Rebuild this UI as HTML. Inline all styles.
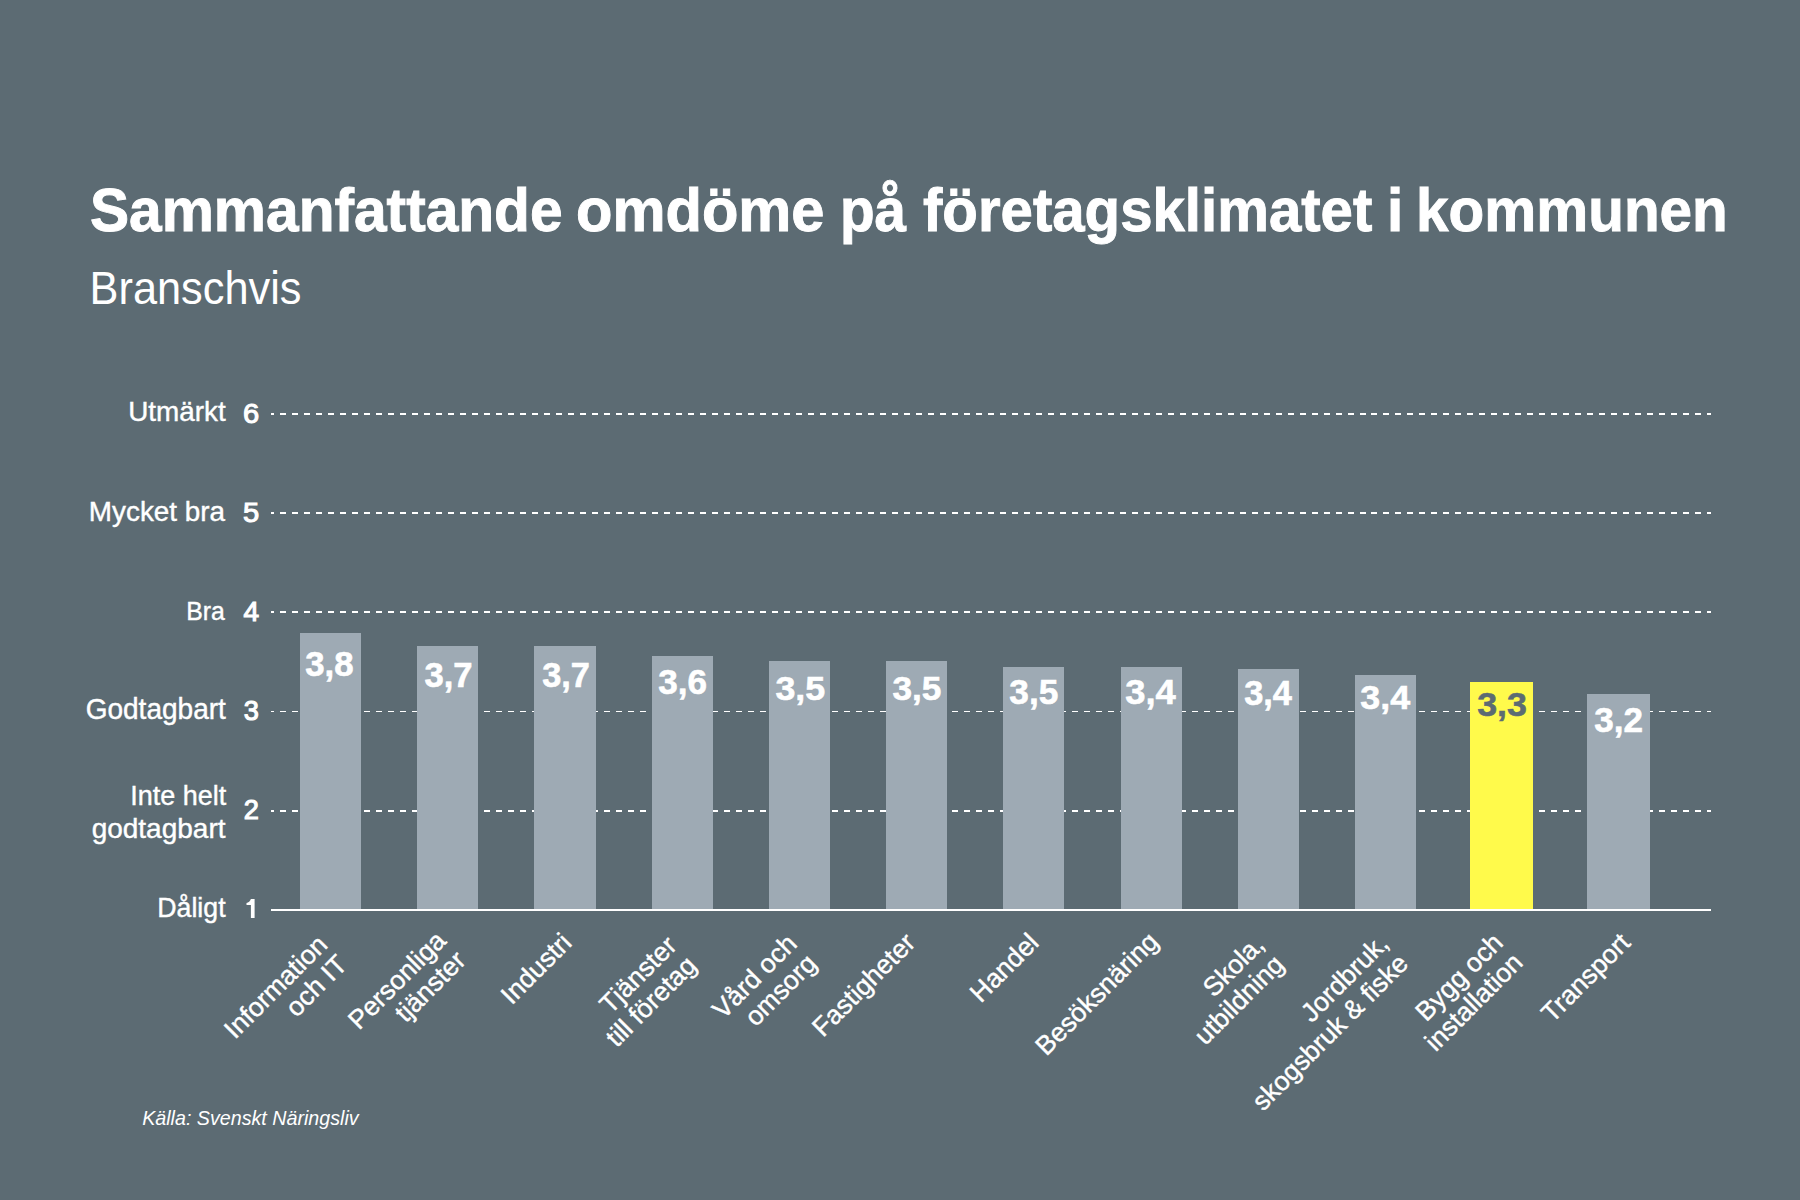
<!DOCTYPE html>
<html><head><meta charset="utf-8"><style>
html,body{margin:0;padding:0;}
body{width:1800px;height:1200px;background:#5c6b73;position:relative;overflow:hidden;font-family:'Liberation Sans',sans-serif;color:#fff;}
.x{position:absolute;white-space:pre;line-height:1;transform-origin:0 0;}
.bar{position:absolute;background:#9eaab4;}
.cat{position:absolute;white-space:pre;text-align:right;transform-origin:100% 0;}
</style></head><body>
<svg style="position:absolute;left:0;top:0" width="1800" height="1200" viewBox="0 0 1800 1200" shape-rendering="crispEdges"><g fill="#fff"><path d="M271 413h3v2h-3zM280 413h6v2h-6zM292 413h6v2h-6zM304 413h6v2h-6zM316 413h6v2h-6zM328 413h6v2h-6zM340 413h6v2h-6zM352 413h6v2h-6zM364 413h6v2h-6zM376 413h6v2h-6zM388 413h6v2h-6zM400 413h6v2h-6zM412 413h6v2h-6zM424 413h6v2h-6zM436 413h6v2h-6zM448 413h6v2h-6zM460 413h6v2h-6zM472 413h6v2h-6zM484 413h6v2h-6zM496 413h6v2h-6zM508 413h6v2h-6zM520 413h6v2h-6zM532 413h6v2h-6zM544 413h6v2h-6zM556 413h6v2h-6zM568 413h6v2h-6zM580 413h6v2h-6zM592 413h6v2h-6zM604 413h6v2h-6zM616 413h6v2h-6zM628 413h6v2h-6zM640 413h6v2h-6zM652 413h6v2h-6zM664 413h6v2h-6zM676 413h6v2h-6zM688 413h6v2h-6zM700 413h6v2h-6zM712 413h6v2h-6zM724 413h6v2h-6zM736 413h6v2h-6zM748 413h6v2h-6zM760 413h6v2h-6zM772 413h6v2h-6zM784 413h6v2h-6zM796 413h6v2h-6zM808 413h6v2h-6zM820 413h6v2h-6zM832 413h6v2h-6zM844 413h6v2h-6zM856 413h6v2h-6zM868 413h6v2h-6zM880 413h6v2h-6zM892 413h6v2h-6zM904 413h6v2h-6zM916 413h6v2h-6zM928 413h6v2h-6zM940 413h6v2h-6zM952 413h6v2h-6zM964 413h6v2h-6zM976 413h6v2h-6zM988 413h6v2h-6zM1000 413h6v2h-6zM1012 413h6v2h-6zM1024 413h6v2h-6zM1036 413h6v2h-6zM1048 413h6v2h-6zM1060 413h6v2h-6zM1072 413h6v2h-6zM1084 413h6v2h-6zM1096 413h6v2h-6zM1108 413h6v2h-6zM1120 413h6v2h-6zM1132 413h6v2h-6zM1144 413h6v2h-6zM1156 413h6v2h-6zM1168 413h6v2h-6zM1180 413h6v2h-6zM1192 413h6v2h-6zM1204 413h6v2h-6zM1216 413h6v2h-6zM1228 413h6v2h-6zM1240 413h6v2h-6zM1252 413h6v2h-6zM1264 413h6v2h-6zM1276 413h6v2h-6zM1288 413h6v2h-6zM1300 413h6v2h-6zM1312 413h6v2h-6zM1324 413h6v2h-6zM1336 413h6v2h-6zM1348 413h6v2h-6zM1360 413h6v2h-6zM1371 413h6v2h-6zM1383 413h6v2h-6zM1395 413h6v2h-6zM1407 413h6v2h-6zM1419 413h6v2h-6zM1431 413h6v2h-6zM1443 413h6v2h-6zM1455 413h6v2h-6zM1467 413h6v2h-6zM1479 413h6v2h-6zM1491 413h6v2h-6zM1503 413h6v2h-6zM1515 413h6v2h-6zM1527 413h6v2h-6zM1539 413h6v2h-6zM1551 413h6v2h-6zM1563 413h6v2h-6zM1575 413h6v2h-6zM1587 413h6v2h-6zM1599 413h6v2h-6zM1611 413h6v2h-6zM1623 413h6v2h-6zM1635 413h6v2h-6zM1647 413h6v2h-6zM1659 413h6v2h-6zM1671 413h6v2h-6zM1683 413h6v2h-6zM1695 413h6v2h-6zM1707 413h4v2h-4z"/><path d="M271 512h3v2h-3zM280 512h6v2h-6zM292 512h6v2h-6zM304 512h6v2h-6zM316 512h6v2h-6zM328 512h6v2h-6zM340 512h6v2h-6zM352 512h6v2h-6zM364 512h6v2h-6zM376 512h6v2h-6zM388 512h6v2h-6zM400 512h6v2h-6zM412 512h6v2h-6zM424 512h6v2h-6zM436 512h6v2h-6zM448 512h6v2h-6zM460 512h6v2h-6zM472 512h6v2h-6zM484 512h6v2h-6zM496 512h6v2h-6zM508 512h6v2h-6zM520 512h6v2h-6zM532 512h6v2h-6zM544 512h6v2h-6zM556 512h6v2h-6zM568 512h6v2h-6zM580 512h6v2h-6zM592 512h6v2h-6zM604 512h6v2h-6zM616 512h6v2h-6zM628 512h6v2h-6zM640 512h6v2h-6zM652 512h6v2h-6zM664 512h6v2h-6zM676 512h6v2h-6zM688 512h6v2h-6zM700 512h6v2h-6zM712 512h6v2h-6zM724 512h6v2h-6zM736 512h6v2h-6zM748 512h6v2h-6zM760 512h6v2h-6zM772 512h6v2h-6zM784 512h6v2h-6zM796 512h6v2h-6zM808 512h6v2h-6zM820 512h6v2h-6zM832 512h6v2h-6zM844 512h6v2h-6zM856 512h6v2h-6zM868 512h6v2h-6zM880 512h6v2h-6zM892 512h6v2h-6zM904 512h6v2h-6zM916 512h6v2h-6zM928 512h6v2h-6zM940 512h6v2h-6zM952 512h6v2h-6zM964 512h6v2h-6zM976 512h6v2h-6zM988 512h6v2h-6zM1000 512h6v2h-6zM1012 512h6v2h-6zM1024 512h6v2h-6zM1036 512h6v2h-6zM1048 512h6v2h-6zM1060 512h6v2h-6zM1072 512h6v2h-6zM1084 512h6v2h-6zM1096 512h6v2h-6zM1108 512h6v2h-6zM1120 512h6v2h-6zM1132 512h6v2h-6zM1144 512h6v2h-6zM1156 512h6v2h-6zM1168 512h6v2h-6zM1180 512h6v2h-6zM1192 512h6v2h-6zM1204 512h6v2h-6zM1216 512h6v2h-6zM1228 512h6v2h-6zM1240 512h6v2h-6zM1252 512h6v2h-6zM1264 512h6v2h-6zM1276 512h6v2h-6zM1288 512h6v2h-6zM1300 512h6v2h-6zM1312 512h6v2h-6zM1324 512h6v2h-6zM1336 512h6v2h-6zM1348 512h6v2h-6zM1360 512h6v2h-6zM1371 512h6v2h-6zM1383 512h6v2h-6zM1395 512h6v2h-6zM1407 512h6v2h-6zM1419 512h6v2h-6zM1431 512h6v2h-6zM1443 512h6v2h-6zM1455 512h6v2h-6zM1467 512h6v2h-6zM1479 512h6v2h-6zM1491 512h6v2h-6zM1503 512h6v2h-6zM1515 512h6v2h-6zM1527 512h6v2h-6zM1539 512h6v2h-6zM1551 512h6v2h-6zM1563 512h6v2h-6zM1575 512h6v2h-6zM1587 512h6v2h-6zM1599 512h6v2h-6zM1611 512h6v2h-6zM1623 512h6v2h-6zM1635 512h6v2h-6zM1647 512h6v2h-6zM1659 512h6v2h-6zM1671 512h6v2h-6zM1683 512h6v2h-6zM1695 512h6v2h-6zM1707 512h4v2h-4z"/><path d="M271 611h3v2h-3zM280 611h6v2h-6zM292 611h6v2h-6zM304 611h6v2h-6zM316 611h6v2h-6zM328 611h6v2h-6zM340 611h6v2h-6zM352 611h6v2h-6zM364 611h6v2h-6zM376 611h6v2h-6zM388 611h6v2h-6zM400 611h6v2h-6zM412 611h6v2h-6zM424 611h6v2h-6zM436 611h6v2h-6zM448 611h6v2h-6zM460 611h6v2h-6zM472 611h6v2h-6zM484 611h6v2h-6zM496 611h6v2h-6zM508 611h6v2h-6zM520 611h6v2h-6zM532 611h6v2h-6zM544 611h6v2h-6zM556 611h6v2h-6zM568 611h6v2h-6zM580 611h6v2h-6zM592 611h6v2h-6zM604 611h6v2h-6zM616 611h6v2h-6zM628 611h6v2h-6zM640 611h6v2h-6zM652 611h6v2h-6zM664 611h6v2h-6zM676 611h6v2h-6zM688 611h6v2h-6zM700 611h6v2h-6zM712 611h6v2h-6zM724 611h6v2h-6zM736 611h6v2h-6zM748 611h6v2h-6zM760 611h6v2h-6zM772 611h6v2h-6zM784 611h6v2h-6zM796 611h6v2h-6zM808 611h6v2h-6zM820 611h6v2h-6zM832 611h6v2h-6zM844 611h6v2h-6zM856 611h6v2h-6zM868 611h6v2h-6zM880 611h6v2h-6zM892 611h6v2h-6zM904 611h6v2h-6zM916 611h6v2h-6zM928 611h6v2h-6zM940 611h6v2h-6zM952 611h6v2h-6zM964 611h6v2h-6zM976 611h6v2h-6zM988 611h6v2h-6zM1000 611h6v2h-6zM1012 611h6v2h-6zM1024 611h6v2h-6zM1036 611h6v2h-6zM1048 611h6v2h-6zM1060 611h6v2h-6zM1072 611h6v2h-6zM1084 611h6v2h-6zM1096 611h6v2h-6zM1108 611h6v2h-6zM1120 611h6v2h-6zM1132 611h6v2h-6zM1144 611h6v2h-6zM1156 611h6v2h-6zM1168 611h6v2h-6zM1180 611h6v2h-6zM1192 611h6v2h-6zM1204 611h6v2h-6zM1216 611h6v2h-6zM1228 611h6v2h-6zM1240 611h6v2h-6zM1252 611h6v2h-6zM1264 611h6v2h-6zM1276 611h6v2h-6zM1288 611h6v2h-6zM1300 611h6v2h-6zM1312 611h6v2h-6zM1324 611h6v2h-6zM1336 611h6v2h-6zM1348 611h6v2h-6zM1360 611h6v2h-6zM1371 611h6v2h-6zM1383 611h6v2h-6zM1395 611h6v2h-6zM1407 611h6v2h-6zM1419 611h6v2h-6zM1431 611h6v2h-6zM1443 611h6v2h-6zM1455 611h6v2h-6zM1467 611h6v2h-6zM1479 611h6v2h-6zM1491 611h6v2h-6zM1503 611h6v2h-6zM1515 611h6v2h-6zM1527 611h6v2h-6zM1539 611h6v2h-6zM1551 611h6v2h-6zM1563 611h6v2h-6zM1575 611h6v2h-6zM1587 611h6v2h-6zM1599 611h6v2h-6zM1611 611h6v2h-6zM1623 611h6v2h-6zM1635 611h6v2h-6zM1647 611h6v2h-6zM1659 611h6v2h-6zM1671 611h6v2h-6zM1683 611h6v2h-6zM1695 611h6v2h-6zM1707 611h4v2h-4z"/><path d="M271 711h3v1h-3zM280 711h6v1h-6zM292 711h6v1h-6zM304 711h6v1h-6zM316 711h6v1h-6zM328 711h6v1h-6zM340 711h6v1h-6zM352 711h6v1h-6zM364 711h6v1h-6zM376 711h6v1h-6zM388 711h6v1h-6zM400 711h6v1h-6zM412 711h6v1h-6zM424 711h6v1h-6zM436 711h6v1h-6zM448 711h6v1h-6zM460 711h6v1h-6zM472 711h6v1h-6zM484 711h6v1h-6zM496 711h6v1h-6zM508 711h6v1h-6zM520 711h6v1h-6zM532 711h6v1h-6zM544 711h6v1h-6zM556 711h6v1h-6zM568 711h6v1h-6zM580 711h6v1h-6zM592 711h6v1h-6zM604 711h6v1h-6zM616 711h6v1h-6zM628 711h6v1h-6zM640 711h6v1h-6zM652 711h6v1h-6zM664 711h6v1h-6zM676 711h6v1h-6zM688 711h6v1h-6zM700 711h6v1h-6zM712 711h6v1h-6zM724 711h6v1h-6zM736 711h6v1h-6zM748 711h6v1h-6zM760 711h6v1h-6zM772 711h6v1h-6zM784 711h6v1h-6zM796 711h6v1h-6zM808 711h6v1h-6zM820 711h6v1h-6zM832 711h6v1h-6zM844 711h6v1h-6zM856 711h6v1h-6zM868 711h6v1h-6zM880 711h6v1h-6zM892 711h6v1h-6zM904 711h6v1h-6zM916 711h6v1h-6zM928 711h6v1h-6zM940 711h6v1h-6zM952 711h6v1h-6zM964 711h6v1h-6zM976 711h6v1h-6zM988 711h6v1h-6zM1000 711h6v1h-6zM1012 711h6v1h-6zM1024 711h6v1h-6zM1036 711h6v1h-6zM1048 711h6v1h-6zM1060 711h6v1h-6zM1072 711h6v1h-6zM1084 711h6v1h-6zM1096 711h6v1h-6zM1108 711h6v1h-6zM1120 711h6v1h-6zM1132 711h6v1h-6zM1144 711h6v1h-6zM1156 711h6v1h-6zM1168 711h6v1h-6zM1180 711h6v1h-6zM1192 711h6v1h-6zM1204 711h6v1h-6zM1216 711h6v1h-6zM1228 711h6v1h-6zM1240 711h6v1h-6zM1252 711h6v1h-6zM1264 711h6v1h-6zM1276 711h6v1h-6zM1288 711h6v1h-6zM1300 711h6v1h-6zM1312 711h6v1h-6zM1324 711h6v1h-6zM1336 711h6v1h-6zM1348 711h6v1h-6zM1360 711h6v1h-6zM1371 711h6v1h-6zM1383 711h6v1h-6zM1395 711h6v1h-6zM1407 711h6v1h-6zM1419 711h6v1h-6zM1431 711h6v1h-6zM1443 711h6v1h-6zM1455 711h6v1h-6zM1467 711h6v1h-6zM1479 711h6v1h-6zM1491 711h6v1h-6zM1503 711h6v1h-6zM1515 711h6v1h-6zM1527 711h6v1h-6zM1539 711h6v1h-6zM1551 711h6v1h-6zM1563 711h6v1h-6zM1575 711h6v1h-6zM1587 711h6v1h-6zM1599 711h6v1h-6zM1611 711h6v1h-6zM1623 711h6v1h-6zM1635 711h6v1h-6zM1647 711h6v1h-6zM1659 711h6v1h-6zM1671 711h6v1h-6zM1683 711h6v1h-6zM1695 711h6v1h-6zM1707 711h4v1h-4z"/><path d="M271 810h3v2h-3zM280 810h6v2h-6zM292 810h6v2h-6zM304 810h6v2h-6zM316 810h6v2h-6zM328 810h6v2h-6zM340 810h6v2h-6zM352 810h6v2h-6zM364 810h6v2h-6zM376 810h6v2h-6zM388 810h6v2h-6zM400 810h6v2h-6zM412 810h6v2h-6zM424 810h6v2h-6zM436 810h6v2h-6zM448 810h6v2h-6zM460 810h6v2h-6zM472 810h6v2h-6zM484 810h6v2h-6zM496 810h6v2h-6zM508 810h6v2h-6zM520 810h6v2h-6zM532 810h6v2h-6zM544 810h6v2h-6zM556 810h6v2h-6zM568 810h6v2h-6zM580 810h6v2h-6zM592 810h6v2h-6zM604 810h6v2h-6zM616 810h6v2h-6zM628 810h6v2h-6zM640 810h6v2h-6zM652 810h6v2h-6zM664 810h6v2h-6zM676 810h6v2h-6zM688 810h6v2h-6zM700 810h6v2h-6zM712 810h6v2h-6zM724 810h6v2h-6zM736 810h6v2h-6zM748 810h6v2h-6zM760 810h6v2h-6zM772 810h6v2h-6zM784 810h6v2h-6zM796 810h6v2h-6zM808 810h6v2h-6zM820 810h6v2h-6zM832 810h6v2h-6zM844 810h6v2h-6zM856 810h6v2h-6zM868 810h6v2h-6zM880 810h6v2h-6zM892 810h6v2h-6zM904 810h6v2h-6zM916 810h6v2h-6zM928 810h6v2h-6zM940 810h6v2h-6zM952 810h6v2h-6zM964 810h6v2h-6zM976 810h6v2h-6zM988 810h6v2h-6zM1000 810h6v2h-6zM1012 810h6v2h-6zM1024 810h6v2h-6zM1036 810h6v2h-6zM1048 810h6v2h-6zM1060 810h6v2h-6zM1072 810h6v2h-6zM1084 810h6v2h-6zM1096 810h6v2h-6zM1108 810h6v2h-6zM1120 810h6v2h-6zM1132 810h6v2h-6zM1144 810h6v2h-6zM1156 810h6v2h-6zM1168 810h6v2h-6zM1180 810h6v2h-6zM1192 810h6v2h-6zM1204 810h6v2h-6zM1216 810h6v2h-6zM1228 810h6v2h-6zM1240 810h6v2h-6zM1252 810h6v2h-6zM1264 810h6v2h-6zM1276 810h6v2h-6zM1288 810h6v2h-6zM1300 810h6v2h-6zM1312 810h6v2h-6zM1324 810h6v2h-6zM1336 810h6v2h-6zM1348 810h6v2h-6zM1360 810h6v2h-6zM1371 810h6v2h-6zM1383 810h6v2h-6zM1395 810h6v2h-6zM1407 810h6v2h-6zM1419 810h6v2h-6zM1431 810h6v2h-6zM1443 810h6v2h-6zM1455 810h6v2h-6zM1467 810h6v2h-6zM1479 810h6v2h-6zM1491 810h6v2h-6zM1503 810h6v2h-6zM1515 810h6v2h-6zM1527 810h6v2h-6zM1539 810h6v2h-6zM1551 810h6v2h-6zM1563 810h6v2h-6zM1575 810h6v2h-6zM1587 810h6v2h-6zM1599 810h6v2h-6zM1611 810h6v2h-6zM1623 810h6v2h-6zM1635 810h6v2h-6zM1647 810h6v2h-6zM1659 810h6v2h-6zM1671 810h6v2h-6zM1683 810h6v2h-6zM1695 810h6v2h-6zM1707 810h4v2h-4z"/></g><path fill="#fff" shape-rendering="geometricPrecision" d="M250.9 899.05H254.6V918H250.9V905.1H246.5V903.1Q249.6 902.6 250.9 899.05Z"/></svg>
<div class="bar" style="left:300px;top:633.1px;width:61px;height:276.9px;background:#9eaab4"></div>
<div class="bar" style="left:417px;top:645.9px;width:61px;height:264.1px;background:#9eaab4"></div>
<div class="bar" style="left:534.3px;top:645.9px;width:61.3px;height:264.1px;background:#9eaab4"></div>
<div class="bar" style="left:651.8px;top:656.2px;width:61.1px;height:253.79999999999995px;background:#9eaab4"></div>
<div class="bar" style="left:768.9px;top:660.7px;width:61.1px;height:249.29999999999995px;background:#9eaab4"></div>
<div class="bar" style="left:886px;top:660.9px;width:61px;height:249.10000000000002px;background:#9eaab4"></div>
<div class="bar" style="left:1003.2px;top:666.9px;width:61.2px;height:243.10000000000002px;background:#9eaab4"></div>
<div class="bar" style="left:1120.8px;top:666.9px;width:60.8px;height:243.10000000000002px;background:#9eaab4"></div>
<div class="bar" style="left:1237.8px;top:669px;width:61.1px;height:241px;background:#9eaab4"></div>
<div class="bar" style="left:1355px;top:675.4px;width:60.9px;height:234.60000000000002px;background:#9eaab4"></div>
<div class="bar" style="left:1469.9px;top:681.7px;width:63.3px;height:228.29999999999995px;background:#fffa4b"></div>
<div class="bar" style="left:1587.2px;top:694px;width:63.2px;height:216px;background:#9eaab4"></div>
<div class="axis" style="position:absolute;left:270.8px;top:908.7px;width:1439.90px;height:2.30px;background:#fff"></div>
<div class="x" id="tw0" style="left:90.29px;top:179.91px;font-size:58.27px;font-weight:bold;-webkit-text-stroke:0.9px #fff;transform:scale(1.0065,1.0500);">Sammanfattande</div>
<div class="x" id="tw1" style="left:576.44px;top:179.91px;font-size:58.27px;font-weight:bold;-webkit-text-stroke:0.9px #fff;transform:scale(1.0236,1.0500);">omdöme</div>
<div class="x" id="tw2" style="left:839.68px;top:179.91px;font-size:58.27px;font-weight:bold;-webkit-text-stroke:0.9px #fff;transform:scale(0.9723,1.0500);">på</div>
<div class="x" id="tw3" style="left:923.00px;top:179.91px;font-size:58.27px;font-weight:bold;-webkit-text-stroke:0.9px #fff;transform:scale(0.9983,1.0500);">företagsklimatet</div>
<div class="x" id="tw4" style="left:1386.55px;top:179.91px;font-size:58.27px;font-weight:bold;-webkit-text-stroke:0.9px #fff;transform:scale(1.0041,1.0500);">i</div>
<div class="x" id="tw5" style="left:1415.59px;top:179.91px;font-size:58.27px;font-weight:bold;-webkit-text-stroke:0.9px #fff;transform:scale(1.0033,1.0500);">kommunen</div>
<div class="x" id="sub" style="left:89.59px;top:265.17px;font-size:43.34px;transform:scale(1.0000,1.0800);">Branschvis</div>
<div class="x" id="yl6" style="left:128.26px;top:398.44px;font-size:27.87px;-webkit-text-stroke:0.4px #fff;transform:scale(1.0000,1.0200);">Utmärkt</div>
<div class="x" id="yl5" style="left:88.86px;top:497.75px;font-size:27.85px;-webkit-text-stroke:0.4px #fff;transform:scale(1.0000,1.0200);">Mycket bra</div>
<div class="x" id="yl4" style="left:186.28px;top:599.60px;font-size:24.79px;-webkit-text-stroke:0.4px #fff;transform:scale(1.0000,1.0200);">Bra</div>
<div class="x" id="yl3" style="left:85.63px;top:695.59px;font-size:28.04px;-webkit-text-stroke:0.4px #fff;transform:scale(1.0000,1.0200);">Godtagbart</div>
<div class="x" id="yl2a" style="left:130.17px;top:782.88px;font-size:27.00px;-webkit-text-stroke:0.4px #fff;transform:scale(1.0000,1.0200);">Inte helt</div>
<div class="x" id="yl2b" style="left:91.63px;top:814.72px;font-size:28.00px;-webkit-text-stroke:0.4px #fff;transform:scale(1.0000,1.0200);">godtagbart</div>
<div class="x" id="yl1" style="left:157.34px;top:894.95px;font-size:26.70px;-webkit-text-stroke:0.4px #fff;transform:scale(1.0000,1.0200);">Dåligt</div>
<div class="x" id="yn6" style="left:242.92px;top:399.74px;font-size:29.13px;-webkit-text-stroke:1.1px #fff;transform:scale(1.0000,0.9392);">6</div>
<div class="x" id="yn5" style="left:242.92px;top:498.58px;font-size:29.15px;-webkit-text-stroke:1.1px #fff;transform:scale(1.0000,0.9411);">5</div>
<div class="x" id="yn4" style="left:243.40px;top:597.72px;font-size:28.09px;-webkit-text-stroke:1.1px #fff;transform:scale(1.0000,0.9791);">4</div>
<div class="x" id="yn3" style="left:243.78px;top:696.76px;font-size:27.14px;-webkit-text-stroke:1.1px #fff;transform:scale(1.0000,1.0159);">3</div>
<div class="x" id="yn2" style="left:243.74px;top:796.37px;font-size:27.21px;-webkit-text-stroke:1.1px #fff;transform:scale(1.0000,0.9869);">2</div>
<div class="x" id="v0" style="left:305.23px;top:646.98px;font-size:34.77px;font-weight:bold;-webkit-text-stroke:0.6px #fff;transform:scale(1.0000,0.9861);">3,8</div>
<div class="x" id="v1" style="left:424.41px;top:657.69px;font-size:34.61px;font-weight:bold;-webkit-text-stroke:0.6px #fff;transform:scale(1.0000,1.0072);">3,7</div>
<div class="x" id="v2" style="left:542.23px;top:657.69px;font-size:34.32px;font-weight:bold;-webkit-text-stroke:0.6px #fff;transform:scale(1.0000,1.0158);">3,7</div>
<div class="x" id="v3" style="left:658.19px;top:665.00px;font-size:35.08px;font-weight:bold;-webkit-text-stroke:0.6px #fff;transform:scale(1.0000,0.9734);">3,6</div>
<div class="x" id="v4" style="left:775.38px;top:672.20px;font-size:35.81px;font-weight:bold;-webkit-text-stroke:0.6px #fff;transform:scale(1.0000,0.9533);">3,5</div>
<div class="x" id="v5" style="left:892.51px;top:672.30px;font-size:35.21px;font-weight:bold;-webkit-text-stroke:0.6px #fff;transform:scale(1.0000,0.9495);">3,5</div>
<div class="x" id="v6" style="left:1009.31px;top:673.79px;font-size:35.21px;font-weight:bold;-webkit-text-stroke:0.6px #fff;transform:scale(1.0000,0.9901);">3,5</div>
<div class="x" id="v7" style="left:1125.19px;top:676.10px;font-size:36.39px;font-weight:bold;-webkit-text-stroke:0.6px #fff;transform:scale(1.0000,0.9383);">3,4</div>
<div class="x" id="v8" style="left:1244.21px;top:676.10px;font-size:34.36px;font-weight:bold;-webkit-text-stroke:0.6px #fff;transform:scale(1.0000,0.9937);">3,4</div>
<div class="x" id="v9" style="left:1360.37px;top:682.30px;font-size:35.84px;font-weight:bold;-webkit-text-stroke:0.6px #fff;transform:scale(1.0000,0.9328);">3,4</div>
<div class="x" id="v10" style="left:1477.20px;top:689.63px;font-size:35.81px;font-weight:bold;color:#5c6b73;-webkit-text-stroke:0.6px #5c6b73;transform:scale(1.0000,0.9096);">3,3</div>
<div class="x" id="v11" style="left:1594.22px;top:702.73px;font-size:35.06px;font-weight:bold;-webkit-text-stroke:0.6px #fff;transform:scale(1.0000,0.9779);">3,2</div>
<div class="x" id="src" style="left:142.20px;top:1108.31px;font-size:19.68px;font-style:italic;transform:scale(1.0000,1.0500);">Källa: Svenskt Näringsliv</div>
<div class="cat" id="c0" style="right:1487.10px;top:929.50px;font-size:26.50px;line-height:28.00px;transform:rotate(-45deg) scale(1,1.0);-webkit-text-stroke:0.4px #fff;">Information
och IT</div>
<div class="cat" id="c1" style="right:1368.50px;top:926.25px;font-size:26.50px;line-height:28.00px;transform:rotate(-45deg) scale(1,1.0);-webkit-text-stroke:0.4px #fff;">Personliga
tjänster</div>
<div class="cat" id="c2" style="right:1243.08px;top:928.18px;font-size:26.50px;line-height:28.00px;transform:rotate(-45deg) scale(1,1.0);-webkit-text-stroke:0.4px #fff;">Industri</div>
<div class="cat" id="c3" style="right:1137.75px;top:931.25px;font-size:26.50px;line-height:28.00px;transform:rotate(-45deg) scale(1,1.0);-webkit-text-stroke:0.4px #fff;">Tjänster
till företag</div>
<div class="cat" id="c4" style="right:1018.40px;top:929.15px;font-size:26.50px;line-height:28.00px;transform:rotate(-45deg) scale(1,1.0);-webkit-text-stroke:0.4px #fff;">Vård och
omsorg</div>
<div class="cat" id="c5" style="right:899.60px;top:928.00px;font-size:26.50px;line-height:28.00px;transform:rotate(-45deg) scale(1,1.0);-webkit-text-stroke:0.4px #fff;">Fastigheter</div>
<div class="cat" id="c6" style="right:775.58px;top:928.25px;font-size:26.50px;line-height:28.00px;transform:rotate(-45deg) scale(1,1.0);-webkit-text-stroke:0.4px #fff;">Handel</div>
<div class="cat" id="c7" style="right:656.45px;top:927.00px;font-size:26.50px;line-height:28.00px;transform:rotate(-45deg) scale(1,1.0);-webkit-text-stroke:0.4px #fff;">Besöksnäring</div>
<div class="cat" id="c8" style="right:550.35px;top:930.25px;font-size:26.50px;line-height:28.00px;transform:rotate(-45deg) scale(1,1.0);-webkit-text-stroke:0.4px #fff;">Skola,
utbildning</div>
<div class="cat" id="c9" style="right:426.05px;top:928.95px;font-size:26.50px;line-height:28.00px;transform:rotate(-45deg) scale(1,1.0);-webkit-text-stroke:0.4px #fff;">Jordbruk,
skogsbruk &amp; fiske</div>
<div class="cat" id="c10" style="right:311.95px;top:928.30px;font-size:26.50px;line-height:28.00px;transform:rotate(-45deg) scale(1,1.0);-webkit-text-stroke:0.4px #fff;">Bygg och
installation</div>
<div class="cat" id="c11" style="right:185.00px;top:927.85px;font-size:26.50px;line-height:28.00px;transform:rotate(-45deg) scale(1,1.0);-webkit-text-stroke:0.4px #fff;">Transport</div>
</body></html>
